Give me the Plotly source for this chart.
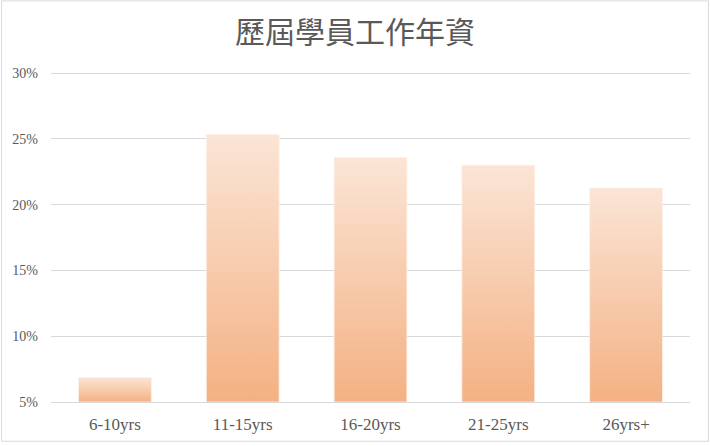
import plotly.graph_objects as go

categories = ["6-10yrs", "11-15yrs", "16-20yrs", "21-25yrs", "26yrs+"]
shares = [0.0686, 0.2533, 0.2358, 0.2300, 0.2126]

y_ticks = [0.05, 0.10, 0.15, 0.20, 0.25, 0.30]
y_min = 0.05

bar_width = 0.57
light = "#FBE5D6"
dark = "#F4B183"

fig = go.Figure()

# one filled polygon per bar so each bar gets its own vertical gradient
for i, (cat, val) in enumerate(zip(categories, shares)):
    x0 = i - bar_width / 2
    x1 = i + bar_width / 2
    fig.add_trace(go.Scatter(
        x=[x0, x0, x1, x1, x0],
        y=[y_min, val, val, y_min, y_min],
        mode="lines",
        fill="toself",
        fillgradient=dict(type="vertical", colorscale=[[0, dark], [1, light]]),
        line=dict(color="rgba(255,240,230,0.8)", width=1),
        name=cat,
        showlegend=False,
        hoverinfo="skip",
    ))

fig.update_layout(
    width=710,
    height=446,
    margin=dict(l=50, r=20, t=72, b=42),
    paper_bgcolor="white",
    plot_bgcolor="white",
    title=dict(
        text="歷屆學員工作年資",
        x=0.5,
        xanchor="center",
        y=0.928,
        yanchor="middle",
        font=dict(family="Noto Sans CJK TC", size=30, color="#595959"),
    ),
    xaxis=dict(
        range=[-0.5, 4.5],
        tickvals=list(range(len(categories))),
        ticktext=categories,
        showgrid=False,
        zeroline=False,
        showline=True,
        linecolor="#D9D9D9",
        linewidth=1,
        ticks="",
        ticklabelstandoff=7,
        tickfont=dict(family="Liberation Serif", size=17, color="#595959"),
        fixedrange=True,
    ),
    yaxis=dict(
        range=[0.05, 0.3008],
        tickvals=y_ticks,
        tickformat=".0%",
        showgrid=True,
        gridcolor="#D9D9D9",
        gridwidth=1,
        zeroline=False,
        showline=False,
        ticks="",
        ticklabelstandoff=12,
        tickfont=dict(family="Liberation Serif", size=14, color="#595959"),
        fixedrange=True,
    ),
    shapes=[dict(
        type="rect",
        xref="paper", yref="paper",
        x0=(-50 + 0.5) / 640, x1=(640 + 20 - 1.5) / 640,
        y0=(-42 + 2.5) / 332, y1=1 + (72 - 0.5) / 332,
        line=dict(color="#D9D9D9", width=1),
        layer="below",
    )],
)

fig.write_html(
    "out.html",
    config={"displayModeBar": False},
    post_script="document.body.style.margin='0';",
)
